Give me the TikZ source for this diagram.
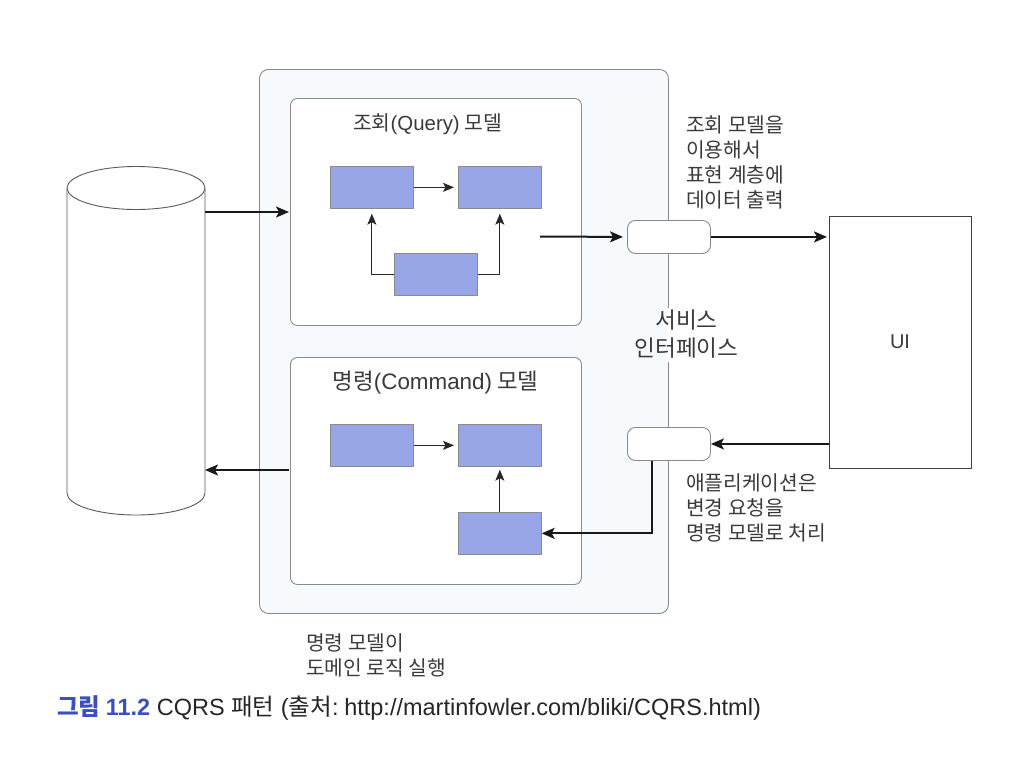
\documentclass[tikz,border=0pt]{standalone}
\usepackage{fontspec}
\setmainfont{Liberation Sans}
\newfontfamily\kr{Noto Sans CJK KR}
\usetikzlibrary{arrows.meta,calc}
\definecolor{edgegray}{HTML}{8A8A8E}
\definecolor{bluebox}{HTML}{98A5E6}
\definecolor{panel}{HTML}{F7FAFD}
\definecolor{inktext}{HTML}{3A3A3A}
\definecolor{capblue}{HTML}{3A4FC0}
\tikzset{
  x=1pt,y=-1pt,
  outerbox/.style={draw=edgegray,line width=0.9pt,fill=panel,rounded corners=9pt,minimum width=409pt,minimum height=544pt,inner sep=0,anchor=north west},
  modelbox/.style={draw=edgegray,line width=0.9pt,fill=white,rounded corners=7pt,minimum width=291pt,minimum height=227pt,inner sep=0,anchor=north west},
  compbox/.style={draw=edgegray,line width=0.7pt,fill=bluebox,minimum width=83pt,minimum height=42pt,inner sep=0,anchor=north west},
  pillbox/.style={draw=edgegray,line width=0.9pt,fill=white,rounded corners=8pt,minimum width=83pt,minimum height=33pt,inner sep=0,anchor=north west},
  uibox/.style={draw=black!75,line width=0.8pt,fill=white,minimum width=142pt,minimum height=252pt,inner sep=0,anchor=north west},
  thin arr/.style={draw=black!85,line width=1.1pt,-{Stealth[length=11pt,width=9pt,inset=2.5pt]}},
  thick arr/.style={draw=black!90,line width=2pt,-{Stealth[length=13pt,width=11pt,inset=3pt]}},
  label/.style={text=inktext,font=\kr\fontsize{20.3}{25}\selectfont,align=left,anchor=north west,inner sep=0},
  title/.style={text=inktext,font=\kr\fontsize{20.4}{26}\selectfont,anchor=center,inner sep=0},
}
\begin{document}
\begin{tikzpicture}
\useasboundingbox (0,0) rectangle (1022,766);
\fill[white] (0,0) rectangle (1022,766);
% database cylinder
\draw[black!65,line width=0.9pt,fill=white] (67,188) -- (67,493) arc[start angle=180,end angle=360,x radius=69,y radius=-22] -- (205,188);
\draw[black!65,line width=0.9pt,fill=white] (136,188) ellipse[x radius=69,y radius=21.5];
\coordinate (dbin) at (205,212);
\coordinate (dbout) at (205,470);
% panels
\node[outerbox] (outer) at (259,69) {};
\node[modelbox] (query) at (290,98) {};
\node[modelbox] (command) at (290,357) {};
\node[title] (qt) at (427.5,124) {조회{\normalfont(Query)} 모델};
\node[title,font=\kr\fontsize{22.4}{26}\selectfont] (ct) at (435.5,383) {명령{\normalfont(Command)} 모델};
% components
\node[compbox] (q1) at (330,166) {};
\node[compbox] (q2) at (458,166) {};
\node[compbox] (q3) at (394,253) {};
\node[compbox] (c1) at (330,424) {};
\node[compbox] (c2) at (458,424) {};
\node[compbox] (c3) at (458,512) {};
% service interface
\draw[white,line width=1.6pt] (668,308) -- (668,362);
\node[pillbox] (p1) at (627,220) {};
\node[pillbox] (p2) at (627,427) {};
\node[uibox] (ui) at (829,216) {};
\node[text=inktext,font=\fontsize{20}{24}\selectfont,inner sep=0] (uilabel) at (900,342) {UI};
\coordinate (qout) at (540,236.5);
\coordinate (qin) at (289,212);
\coordinate (cout) at (289,470);
% connectors
\draw[thin arr,shorten >=4pt] (q1.east) -- (q2.west);
\draw[thin arr] (q3.west) -| ($(q1.south)+(0,5)$);
\draw[thin arr] (q3.east) -| ($(q2.south)+(0,5)$);
\draw[thin arr,shorten >=4pt] (c1.east) -- (c2.west);
\draw[thin arr] (c3.north) -- ($(c2.south)+(0,3)$);
\draw[thick arr] (dbin) -- (qin);
\draw[thick arr] (cout) -- (dbout);
\draw[thick arr,shorten >=4pt] (qout) -- (p1.west);
\draw[thick arr,shorten >=2pt] (p1.east) -- (ui.west |- p1.east);
\draw[thick arr] (ui.west |- p2.east) -- (p2.east);
\draw[thick arr] ($(p2.south west)+(25,0)$) |- (c3.east);
% labels
\node[label] (l1) at (686,116) {조회 모델을\\이용해서\\표현 계층에\\데이터 출력};
\node[label] (l2) at (686,474) {애플리케이션은\\변경 요청을\\명령 모델로 처리};
\node[label] (l3) at (306,634) {명령 모델이\\도메인 로직 실행};
\node[title,align=center,font=\kr\fontsize{22.6}{27.5}\selectfont] (svc) at (686.5,334) {서비스\\인터페이스};
\node[anchor=west,inner sep=0,font=\fontsize{23.5}{26}\selectfont,text=black!85] (cap) at (57,708) {{\kr\bfseries\color{capblue}그림 }{\bfseries\color{capblue}11.2} CQRS {\kr 패턴} ({\kr 출처}:\hspace{-3pt} http://martinfowler.com/bliki/CQRS.html)};
\end{tikzpicture}
\end{document}
